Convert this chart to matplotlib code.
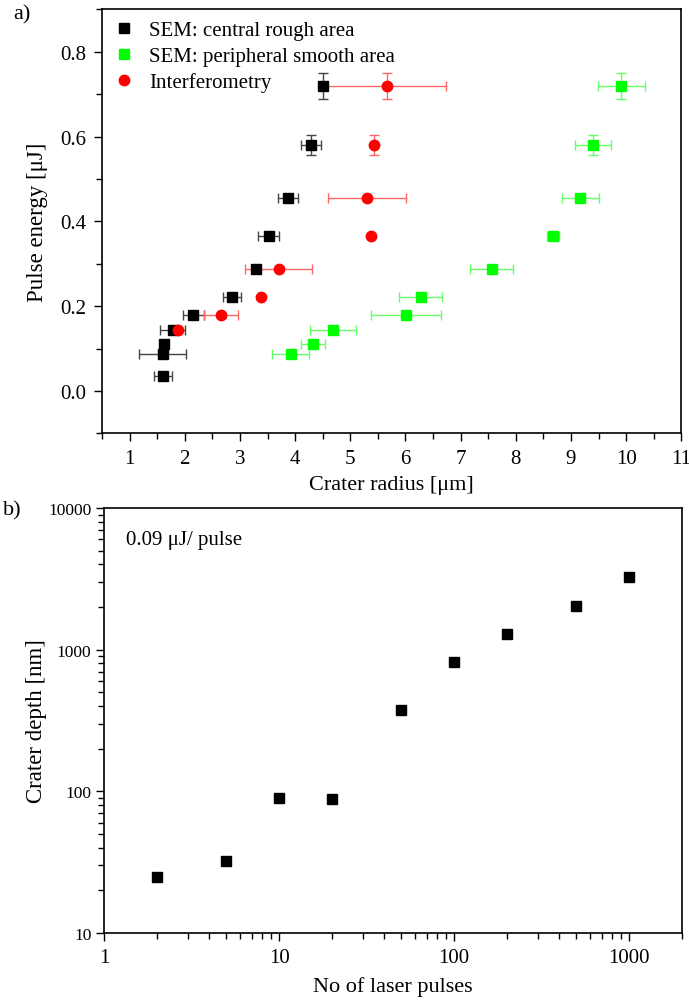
import numpy as np
import matplotlib
matplotlib.use("Agg")
import matplotlib.pyplot as plt
from matplotlib.ticker import MultipleLocator, LogLocator, NullFormatter, FormatStrFormatter

plt.rcParams['font.family'] = ['Liberation Serif', 'DejaVu Serif']
plt.rcParams['font.size'] = 15

# panel a) : SEM central rough area (black)
blk_x = [1.61, 1.60, 1.63, 1.78, 2.15, 2.86, 3.29, 3.52, 3.87, 4.29, 4.51]
blk_y = [0.036, 0.088, 0.111, 0.144, 0.180, 0.222, 0.287, 0.366, 0.455, 0.581, 0.719]
blk_xerr = [0.16, 0.43, 0.0, 0.23, 0.19, 0.16, 0.0, 0.19, 0.18, 0.18, 0.0]
blk_yerr = [0.0, 0.0, 0.0, 0.0, 0.0, 0.0, 0.0, 0.0, 0.01, 0.0235, 0.0306]

# SEM peripheral smooth area (green)
grn_x = [3.92, 4.33, 4.69, 6.01, 6.28, 7.56, 8.68, 9.17, 9.40, 9.91]
grn_y = [0.088, 0.111, 0.144, 0.180, 0.222, 0.287, 0.366, 0.455, 0.581, 0.719]
grn_xerr = [0.33, 0.22, 0.42, 0.64, 0.39, 0.39, 0.11, 0.34, 0.33, 0.43]
grn_yerr = [0.0, 0.0, 0.0, 0.0, 0.0, 0.0, 0.0, 0.01, 0.0235, 0.0306]

# Interferometry (red)
red_x = [1.88, 2.65, 3.38, 3.70, 5.375, 5.30, 5.43, 5.66]
red_y = [0.144, 0.180, 0.222, 0.287, 0.366, 0.455, 0.581, 0.719]
red_xerr = [0.0, 0.31, 0.0, 0.60, 0.0, 0.71, 0.0, 1.08]
red_yerr = [0.0, 0.0, 0.0, 0.0, 0.0, 0.0, 0.0235, 0.0306]

# panel b) : crater depth vs number of pulses
pulses = [2, 5, 10, 20, 50, 100, 200, 500, 1000]
depth = [25, 32, 90, 88, 373, 824, 1280, 2050, 3250]

fig = plt.figure(figsize=(6.89, 10.03), dpi=100)
ax1 = fig.add_axes([0.148, 0.567, 0.841, 0.4227])
ax2 = fig.add_axes([0.151, 0.0688, 0.8385, 0.4237])

ms = 7.5
ax1.errorbar(blk_x, blk_y, xerr=blk_xerr, yerr=blk_yerr, fmt='s', color='black',
             ecolor='#444444', elinewidth=1, capsize=3.5, ms=ms, label='SEM: central rough area')
ax1.errorbar(grn_x, grn_y, xerr=grn_xerr, yerr=grn_yerr, fmt='s', color='#00ff00',
             ecolor='#66ff66', elinewidth=1, capsize=3.5, ms=ms, label='SEM: peripheral smooth area')
ax1.errorbar(red_x, red_y, xerr=red_xerr, yerr=red_yerr, fmt='o', color='#ff0000',
             ecolor='#ff6666', elinewidth=1, capsize=3.5, ms=ms, label='Interferometry')

ax1.set_xlim(0.5, 11)
ax1.set_ylim(-0.1, 0.9)
ax1.xaxis.set_major_locator(MultipleLocator(1))
ax1.xaxis.set_minor_locator(MultipleLocator(0.5))
ax1.yaxis.set_major_locator(MultipleLocator(0.2))
ax1.yaxis.set_minor_locator(MultipleLocator(0.1))
ax1.yaxis.set_major_formatter(FormatStrFormatter('%.1f'))
ax1.set_xlabel('Crater radius [μm]', fontsize=16, labelpad=5)
ax1.set_ylabel('Pulse energy [μJ]', fontsize=16.5, labelpad=9)

handles, labels = ax1.get_legend_handles_labels()
handles = [h[0] for h in handles]
ax1.legend(handles, labels, loc='upper left', frameon=False, fontsize=15,
           handletextpad=0.7, borderaxespad=0.15, labelspacing=0.3, handlelength=1.0)

ax2.plot(pulses, depth, 's', color='black', ms=7.5)
ax2.set_xscale('log')
ax2.set_yscale('log')
ax2.set_xlim(1, 2000)
ax2.set_ylim(10, 10000)
ax2.set_xticks([1, 10, 100, 1000])
ax2.set_xticklabels(['1', '10', '100', '1000'])
ax2.set_yticks([10, 100, 1000, 10000])
ax2.set_yticklabels(['10', '100', '1000', '10000'])
ax2.xaxis.set_minor_locator(LogLocator(base=10, subs=np.arange(2, 10)))
ax2.yaxis.set_minor_locator(LogLocator(base=10, subs=np.arange(2, 10)))
ax2.xaxis.set_minor_formatter(NullFormatter())
ax2.yaxis.set_minor_formatter(NullFormatter())
ax2.set_xlabel('No of laser pulses', fontsize=16, labelpad=6)
ax2.set_ylabel('Crater depth [nm]', fontsize=16.5, labelpad=1)
ax2.text(0.038, 0.927, '0.09 μJ/ pulse', transform=ax2.transAxes, va='center', ha='left', fontsize=15)

for ax in (ax1, ax2):
    ax.tick_params(which='major', direction='out', length=6, width=1, pad=5, top=False, right=False)
    ax.tick_params(which='minor', direction='out', length=4, width=1, top=False, right=False)
    for s in ax.spines.values():
        s.set_linewidth(1.2)
ax2.tick_params(axis='y', which='major', labelsize=12.5, pad=3)

fig.text(0.019, 0.985, 'a)', fontsize=16, va='center')
fig.text(0.004, 0.491, 'b)', fontsize=16, va='center')

fig.savefig('out.png', dpi=100)
